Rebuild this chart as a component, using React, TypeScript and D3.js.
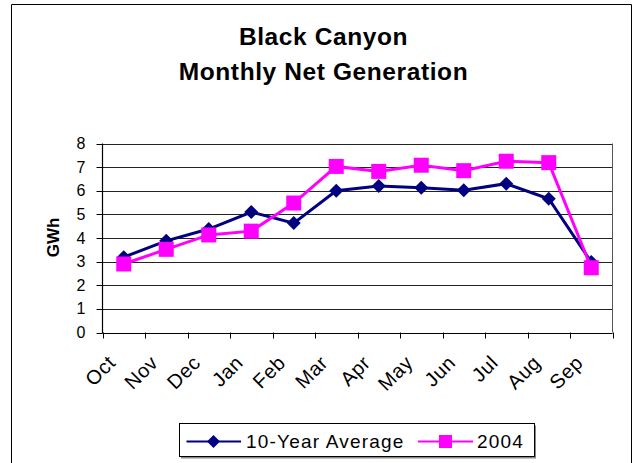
import React from "react";
import * as d3 from "d3";

const months = ["Oct","Nov","Dec","Jan","Feb","Mar","Apr","May","Jun","Jul","Aug","Sep"];
const avg10 = [3.19, 3.88, 4.38, 5.1, 4.63, 6.0, 6.2, 6.13, 6.02, 6.3, 5.66, 2.98];
const y2004 = [2.9, 3.52, 4.13, 4.29, 5.48, 7.03, 6.82, 7.08, 6.85, 7.25, 7.19, 2.74];
const yTicks = [0,1,2,3,4,5,6,7,8];
const seriesNames = ["10-Year Average", "2004"];

const W = 635, H = 463;
const plot = { left: 102.5, right: 612.5, top: 143.5, bottom: 332.5 };
const NAVY = "#000080";
const MAGENTA = "#FF00FF";
const FONT = "Liberation Sans, Arial, sans-serif";

export default function App() {
  const x = d3.scaleBand<string>().domain(months).range([plot.left, plot.right]).padding(0);
  const y = d3.scaleLinear().domain([0, 8]).range([plot.bottom, plot.top]);
  const cx = (m: string) => (x(m) as number) + x.bandwidth() / 2;
  const line = d3.line<number>().x((_, i) => cx(months[i])).y((v) => y(v));
  const diamond = (px: number, py: number, r: number) =>
    `M${px},${py - r}L${px + r},${py}L${px},${py + r}L${px - r},${py}Z`;
  const sq = 7.5;

  return (
    <svg width={W} height={H} style={{ position: "absolute", left: 0, top: 0, background: "#fff" }}
      fontFamily={FONT}>
      <rect x={0} y={0} width={W} height={H} fill="#fff" />
      {/* outer frame */}
      <path d={`M11.5,${H}V4.5H631.5V${H}`} fill="none" stroke="#000" strokeWidth={1} />
      {/* title */}
      <text x={323.5} y={45} textAnchor="middle" fontSize={24.5} fontWeight="bold" letterSpacing={0.6}>Black Canyon</text>
      <text x={323.5} y={80} textAnchor="middle" fontSize={24.5} fontWeight="bold" letterSpacing={0.6}>Monthly Net Generation</text>
      {/* gridlines */}
      {yTicks.map((t) => (
        <line key={t} x1={plot.left} x2={plot.right} y1={Math.round(y(t)) + 0.5} y2={Math.round(y(t)) + 0.5}
          stroke={t === 0 ? "#000" : "#222"} strokeWidth={1} />
      ))}
      {/* plot border right */}
      <line x1={plot.right} x2={plot.right} y1={plot.top} y2={plot.bottom} stroke="#555" strokeWidth={1} />
      {/* y axis */}
      <line x1={plot.left} x2={plot.left} y1={plot.top} y2={plot.bottom + 0.5} stroke="#000" strokeWidth={1.2} />
      {yTicks.map((t) => (
        <g key={"yt" + t}>
          <line x1={plot.left - 6} x2={plot.left} y1={Math.round(y(t)) + 0.5} y2={Math.round(y(t)) + 0.5} stroke="#000" />
          <text x={85.5} y={y(t) + 5.5} textAnchor="end" fontSize={16}>{t}</text>
        </g>
      ))}
      <text transform={`translate(58.5,237.5) rotate(-90)`} textAnchor="middle" fontSize={17} fontWeight="bold">GWh</text>
      {/* x ticks */}
      {months.concat(["end"]).map((m, i) => {
        const px = Math.round(plot.left + i * x.bandwidth()) + 0.5;
        return <line key={"xt" + i} x1={px} x2={px} y1={plot.bottom} y2={plot.bottom + 6} stroke="#000" />;
      })}
      {months.map((m) => (
        <text key={"xl" + m} transform={`translate(${cx(m) - 7},${364}) rotate(-45)`} textAnchor="end"
          fontSize={20} letterSpacing={0.6}>{m}</text>
      ))}
      {/* series */}
      <path d={line(avg10) || ""} fill="none" stroke={NAVY} strokeWidth={3} />
      {avg10.map((v, i) => (
        <path key={"d" + i} d={diamond(cx(months[i]), y(v), 7)} fill={NAVY} />
      ))}
      <path d={line(y2004) || ""} fill="none" stroke={MAGENTA} strokeWidth={3} />
      {y2004.map((v, i) => (
        <rect key={"s" + i} x={cx(months[i]) - sq} y={y(v) - sq} width={sq * 2} height={sq * 2} fill={MAGENTA} />
      ))}
      {/* legend */}
      <rect x={181} y={425.5} width={355} height={33} fill="#888" />
      <rect x={179.5} y={423.5} width={355} height={33} fill="#fff" stroke="#000" strokeWidth={1} />
      <line x1={186.5} x2={241} y1={441.5} y2={441.5} stroke={NAVY} strokeWidth={2} />
      <path d={diamond(213.5, 441.5, 6.5)} fill={NAVY} />
      <text x={246} y={448} fontSize={19} letterSpacing={1.2}>{seriesNames[0]}</text>
      <line x1={418} x2={473} y1={441.5} y2={441.5} stroke={MAGENTA} strokeWidth={2} />
      <rect x={439} y={435} width={13} height={13} fill={MAGENTA} />
      <text x={477} y={448} fontSize={19} letterSpacing={1.2}>{seriesNames[1]}</text>
    </svg>
  );
}
